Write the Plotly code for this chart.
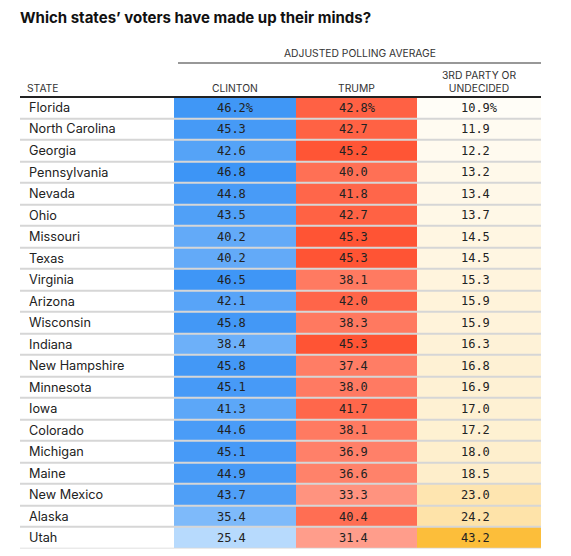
import plotly.graph_objects as go

# ---------------- data ----------------
states = ["Florida", "North Carolina", "Georgia", "Pennsylvania", "Nevada", "Ohio",
          "Missouri", "Texas", "Virginia", "Arizona", "Wisconsin", "Indiana",
          "New Hampshire", "Minnesota", "Iowa", "Colorado", "Michigan", "Maine",
          "New Mexico", "Alaska", "Utah"]
clinton = [46.2, 45.3, 42.6, 46.8, 44.8, 43.5, 40.2, 40.2, 46.5, 42.1, 45.8, 38.4,
           45.8, 45.1, 41.3, 44.6, 45.1, 44.9, 43.7, 35.4, 25.4]
trump = [42.8, 42.7, 45.2, 40.0, 41.8, 42.7, 45.3, 45.3, 38.1, 42.0, 38.3, 45.3,
         37.4, 38.0, 41.7, 38.1, 36.9, 36.6, 33.3, 40.4, 31.4]
third = [10.9, 11.9, 12.2, 13.2, 13.4, 13.7, 14.5, 14.5, 15.3, 15.9, 15.9, 16.3,
         16.8, 16.9, 17.0, 17.2, 18.0, 18.5, 23.0, 24.2, 43.2]
column_titles = ["CLINTON", "TRUMP", "3RD PARTY OR<br>UNDECIDED"]

# ---------------- layout constants ----------------
OFF = 8                      # default page body margin
W, H = 571 - OFF, 556 - OFF
X_LEFT, X_C, X_T, X_3, X_RIGHT = 20, 174, 296, 417, 541
Y_TOP, Y_BOTTOM = 96.7, 548.5

def py(p):  # window pixel y -> paper
    return 1 - (p - OFF) / H

def px(p):  # window pixel x -> paper
    return (p - OFF) / W

def label(v, i):
    return f"{v:.1f}%" if i == 0 else f"{v:.1f}\u00a0"

fig = go.Figure()

# state column (white cells, gaps show separators)
fig.add_trace(go.Heatmap(
    x=[X_LEFT, X_C], y=states, z=[[0] for _ in states],
    colorscale=[[0, "white"], [1, "white"]], showscale=False, ygap=2,
    hoverinfo="skip"))

cols = [
    (clinton, X_C, X_T, [[0, "#b7dafd"], [1, "#3d95f6"]]),
    (trump, X_T, X_3, [[0, "#ff9d8b"], [1, "#ff5434"]]),
    (third, X_3, X_RIGHT, [[0, "#fffdf7"], [1, "#fcbe3a"]]),
]
for vals, x0, x1, cs in cols:
    fig.add_trace(go.Heatmap(
        x=[x0, x1], y=states, z=[[v] for v in vals],
        text=[[label(v, i)] for i, v in enumerate(vals)],
        texttemplate="%{text}",
        textfont=dict(family="DejaVu Sans Mono", size=12, color="#222"),
        colorscale=cs, zmin=min(vals), zmax=max(vals), showscale=False,
        ygap=2, xgap=0, hoverinfo="skip"))

annotations = []
for s in states:
    annotations.append(dict(x=27, y=s, xref="x", yref="y", text=s, showarrow=False,
                            xanchor="left", yanchor="middle",
                            font=dict(family="Inter, Liberation Sans", size=12.7, color="#222")))

hdr_font = dict(family="Inter, Liberation Sans", size=10.3, color="#333")
annotations.append(dict(x=(X_C + 4 + X_RIGHT) / 2, y=py(53), xref="x", yref="paper",
                        text="ADJUSTED POLLING AVERAGE", showarrow=False,
                        xanchor="center", yanchor="middle", font=hdr_font))
annotations.append(dict(x=25, y=py(88), xref="x", yref="paper", text="STATE",
                        showarrow=False, xanchor="left", yanchor="middle", font=hdr_font))
centers = [(X_C + X_T) / 2, (X_T + X_3) / 2, (X_3 + X_RIGHT) / 2]
for t, cx in zip(column_titles, centers):
    annotations.append(dict(x=cx, y=py(96), xref="x", yref="paper", text=t,
                            showarrow=False, xanchor="center", yanchor="bottom",
                            font=hdr_font))

shapes = [
    dict(type="line", xref="x", yref="paper", x0=X_C + 4, x1=X_RIGHT, y0=py(63), y1=py(63),
         line=dict(color="#333", width=1.2)),
    dict(type="line", xref="x", yref="paper", x0=X_LEFT, x1=X_RIGHT, y0=py(97), y1=py(97),
         line=dict(color="#222", width=2)),
]

fig.update_layout(
    width=W, height=H, margin=dict(l=0, r=0, t=0, b=0),
    paper_bgcolor="white", plot_bgcolor="#d6d6d6",
    title=dict(text="<b>Which states’ voters have made up their minds?</b>",
               x=px(X_LEFT), xanchor="left", y=py(17.5), yanchor="middle",
               font=dict(family="Inter, Liberation Sans", size=15, color="#111")),
    xaxis=dict(range=[X_LEFT, X_RIGHT], domain=[px(X_LEFT), px(X_RIGHT)],
               visible=False, fixedrange=True),
    yaxis=dict(autorange="reversed", domain=[py(Y_BOTTOM), py(Y_TOP)],
               visible=False, type="category", fixedrange=True),
    annotations=annotations, shapes=shapes, showlegend=False,
)

fig.write_html("out.html")
